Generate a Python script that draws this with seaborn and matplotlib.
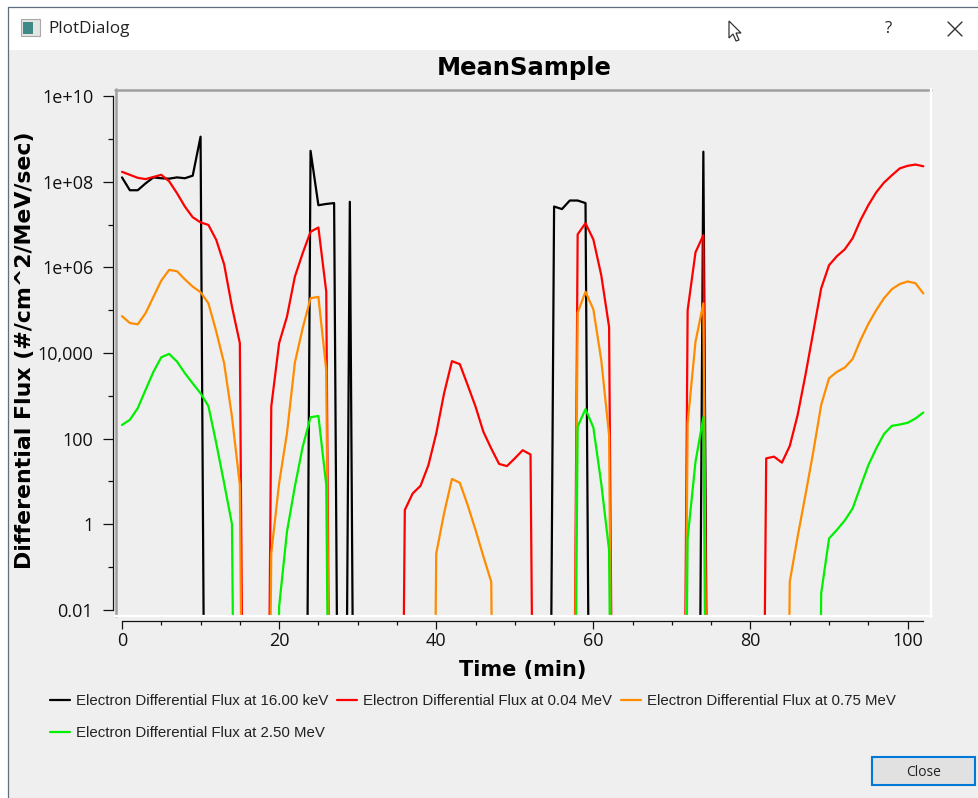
import numpy as np
import pandas as pd
import matplotlib
matplotlib.use("Agg")
import matplotlib.pyplot as plt
from matplotlib.patches import Rectangle, Polygon
from matplotlib.lines import Line2D
import seaborn as sns

W, H = 979, 798
G = -20  # instrument reports effectively zero flux: far below the plotted range

minutes = list(range(103))
# log10 of flux
black_log = ([8.10, 7.80, 7.80, 7.96, 8.10, 8.08, 8.07, 8.10, 8.08, 8.14, 9.05] + [G]*13 +
             [8.72, 7.45, 7.48, 7.50] + [G] + [7.53] + [G]*25 +
             [7.42, 7.36, 7.56, 7.56, 7.50] + [G]*14 + [8.70] + [G]*28)
red_log = ([8.23, 8.16, 8.09, 8.06, 8.11, 8.16, 8.01, 7.73, 7.42, 7.17, 7.05, 6.99, 6.64, 6.07, 5.08, 4.23] + [G]*3 +
           [2.75, 4.23, 4.85, 5.78, 6.33, 6.83, 6.93, 5.43] + [G]*9 +
           [0.335, 0.72, 0.90, 1.38, 2.12, 3.06, 3.81, 3.74, 3.25, 2.75, 2.16, 1.77, 1.41, 1.36, 1.54, 1.73, 1.63] + [G]*5 +
           [6.77, 7.03, 6.65, 5.82, 4.61] + [G]*9 + [5.00, 6.35, 6.75] + [G]*7 +
           [1.54, 1.58, 1.44, 1.83, 2.55, 3.49, 4.50, 5.51, 6.05, 6.26, 6.42, 6.68, 7.10, 7.45, 7.75, 7.98, 8.15, 8.31, 8.37, 8.40, 8.36])
orange_log = ([4.86, 4.70, 4.67, 4.93, 5.31, 5.69, 5.94, 5.91, 5.72, 5.55, 5.42, 5.16, 4.50, 3.76, 2.51, 0.92] + [G]*3 +
              [-0.68, 0.96, 2.13, 3.77, 4.58, 5.28, 5.31, 3.60] + [G]*13 +
              [-0.68, 0.26, 1.06, 0.97, 0.45, -0.13, -0.75, -1.34] + [G]*10 +
              [4.94, 5.43, 5.02, 3.84, 2.09] + [G]*9 + [2.36, 4.26, 5.16] + [G]*10 +
              [-1.34, -0.29, 0.69, 1.70, 2.79, 3.41, 3.56, 3.66, 3.86, 4.30, 4.68, 5.00, 5.28, 5.49, 5.61, 5.67, 5.63, 5.39])
green_log = ([2.32, 2.44, 2.71, 3.14, 3.56, 3.90, 3.98, 3.80, 3.53, 3.29, 3.06, 2.76, 1.89, 0.96, 0.0] + [G]*5 +
             [-1.92, -0.17, 0.88, 1.81, 2.50, 2.53, 0.92] + [G]*31 +
             [2.28, 2.69, 2.26, 0.96, -0.60] + [G]*9 + [-0.33, 1.46, 2.50] + [G]*14 +
             [-1.61, -0.33, -0.13, 0.09, 0.37, 0.88, 1.38, 1.77, 2.11, 2.30, 2.33, 2.37, 2.47, 2.61])

series_names = ["Electron Differential Flux at 16.00 keV", "Electron Differential Flux at 0.04 MeV",
                "Electron Differential Flux at 0.75 MeV", "Electron Differential Flux at 2.50 MeV"]
series_logs = [black_log, red_log, orange_log, green_log]
series_colors = ["#000000", "#ff0000", "#ff8c00", "#00f000"]
y_major = [1e10, 1e8, 1e6, 1e4, 1e2, 1, 0.01]
y_major_labels = ["1e+10", "1e+08", "1e+06", "10,000", "100", "1", "0.01"]
y_minor = [1e9, 1e7, 1e5, 1e3, 1e1, 0.1]
x_major = [0, 20, 40, 60, 80, 100]
x_minor = [5, 10, 15, 25, 30, 35, 45, 50, 55, 65, 70, 75, 85, 90, 95]

df = pd.DataFrame({
    "Time": minutes * 4,
    "Flux": 10.0 ** np.concatenate(series_logs),
    "Series": np.repeat(series_names, 103),
})

sns.set_theme(style="ticks")
BG = "#efefef"
fig = plt.figure(figsize=(W/100, H/100), dpi=100, facecolor="white")

def px_rect(x0, y0, x1, y1, **kw):
    kw.setdefault("zorder", -1)
    fig.add_artist(Rectangle((x0/W, 1-y1/H), (x1-x0)/W, (y1-y0)/H, transform=fig.transFigure, **kw))

def px_line(xs, ys, **kw):
    fig.add_artist(Line2D([x/W for x in xs], [1-y/H for y in ys], transform=fig.transFigure, **kw))

# dialog window chrome
px_rect(8, 50, W, H, fc=BG, ec="none")
px_line([8, 8], [7, H], color="#5f6f80", lw=0.9)
px_line([8, W], [7, 7], color="#5f6f80", lw=0.9)
px_rect(21, 19, 40, 36, fc="#e4e4e4", ec="#a8a8a8", lw=0.8)
px_rect(23, 22, 33, 34, fc="#3f8a86", ec="none", zorder=0)
fig.text(48/W, 1-29/H, "PlotDialog", family="Open Sans", fontsize=12.3, color="#222222", va="center", ha="left")
fig.text(888/W, 1-29/H, "?", family="Open Sans", fontsize=12, color="#222222", va="center", ha="center")
px_line([948, 962], [22, 36], color="#333333", lw=1)
px_line([948, 962], [36, 22], color="#333333", lw=1)
fig.add_artist(Polygon([(x/W, 1-y/H) for x, y in [(729, 21), (729, 38), (733, 34), (736, 41), (739, 40), (736, 33), (741, 33)]],
                       closed=True, transform=fig.transFigure, fc="white", ec="#333333", lw=0.9))

# plot canvas
L, R, T, B = 117.5, 930.0, 91.0, 615.0
ax = fig.add_axes([L/W, 1-B/H, (R-L)/W, (B-T)/H], facecolor=BG)
sns.lineplot(data=df, x="Time", y="Flux", hue="Series", hue_order=series_names,
             palette=series_colors, estimator=None, sort=False, lw=1.6, ax=ax, legend=True)
ax.set_yscale("log")
ax.set_xlim(-0.573, 102.85)
ax.set_ylim(10**-2.117, 10**10.117)

px_line([L-1.5, L-1.5], [89, B+1], color="#a0a0a0", lw=1.8)
px_line([L-2.5, R+1], [89.5, 89.5], color="#a0a0a0", lw=1.8)
px_line([L-2.5, R+2], [B+1, B+1], color="white", lw=1.6)
px_line([R+1, R+1], [89, B+2], color="white", lw=1.6)

for s in ("top", "right"):
    ax.spines[s].set_visible(False)
ax.spines["left"].set_position(("outward", 3.5))
ax.spines["bottom"].set_position(("outward", 4.1))
ax.spines["left"].set_bounds(0.01, 1e10)
ax.spines["bottom"].set_bounds(0, 102)
for s in ("left", "bottom"):
    ax.spines[s].set_color("#111111")
    ax.spines[s].set_linewidth(0.9)

ax.set_yticks(y_major, y_major_labels)
ax.set_yticks(y_minor, [""] * len(y_minor), minor=True)
ax.set_xticks(x_major, [str(v) for v in x_major])
ax.set_xticks(x_minor, [""] * len(x_minor), minor=True)
ax.tick_params(axis="y", which="major", length=7, width=0.9, color="#111111", labelsize=13, pad=7, labelcolor="#111111")
ax.tick_params(axis="y", which="minor", length=3.6, width=0.9, color="#111111")
ax.tick_params(axis="x", which="major", length=6, width=0.9, color="#111111", labelsize=13, pad=2, labelcolor="#111111")
ax.tick_params(axis="x", which="minor", length=3, width=0.9, color="#111111")
for lab in ax.get_xticklabels() + ax.get_yticklabels():
    lab.set_family("Open Sans")
ax.set_xlabel("")
ax.set_ylabel("")
fig.text(524/W, 1-68/H, "MeanSample", fontsize=17.5, fontweight="bold", family="DejaVu Sans", color="black", ha="center", va="center")
fig.text(523/W, 1-670/H, "Time (min)", fontsize=15, fontweight="bold", family="DejaVu Sans", color="black", ha="center", va="center")
fig.text(25/W, 1-350/H, "Differential Flux (#/cm^2/MeV/sec)", fontsize=15.8, fontweight="bold", family="DejaVu Sans",
         color="black", ha="center", va="center", rotation=90)

# legend: green shares the first column with black, as in the dialog
h, l = ax.get_legend_handles_labels()
idx = [0, 3, 1, 2]
leg = ax.legend([h[i] for i in idx], [l[i] for i in idx], ncol=3, frameon=False,
                loc="upper left", bbox_to_anchor=(50/W, 1-694/H), bbox_transform=fig.transFigure,
                prop={"family": "Liberation Sans", "size": 10.8}, handlelength=1.33, handletextpad=0.4,
                columnspacing=0.6, labelspacing=1.2, borderpad=0, borderaxespad=0)
for t in leg.get_texts():
    t.set_color("#222222")

# close button
px_rect(872, 757, 975, 785, fc="#e1e1e1", ec="#0078d7", lw=1.5)
fig.text(923.5/W, 1-772/H, "Close", family="Open Sans", fontsize=10, color="#222222", ha="center", va="center")

fig.savefig("out.png", dpi=100, facecolor=fig.get_facecolor())
